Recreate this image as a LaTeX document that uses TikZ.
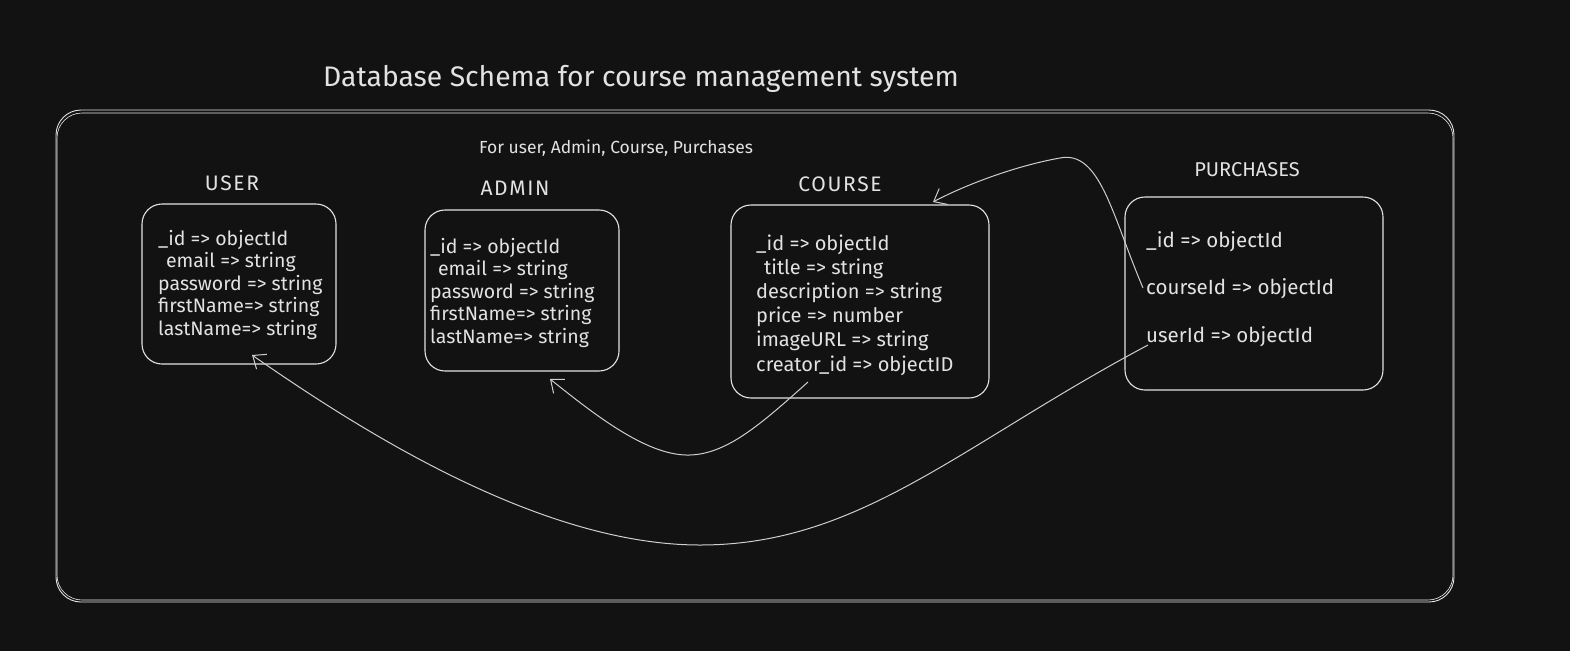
\documentclass[tikz,border=0pt]{standalone}
\usepackage{fontspec}
\setmainfont{Fira Sans}
\usetikzlibrary{arrows.meta}
\definecolor{bg}{HTML}{121212}
\definecolor{ink}{HTML}{E2E2E2}
\definecolor{wire}{HTML}{CFCFCF}
\begin{document}
\begin{tikzpicture}[x=1pt,y=-1pt,
  tbl/.style={draw=ink,line width=1.1pt,rounded corners=20pt,inner sep=0pt},
  lbl/.style={text=ink,font=\fontsize{21}{24}\selectfont\addfontfeatures{LetterSpace=8},inner sep=0pt},
  fields/.style={text=ink,font=\fontsize{19.5}{22.5}\selectfont,align=left,inner sep=0pt,anchor=base west},
  link/.style={draw=wire,line width=1pt,-{Straight Barb[length=11pt,width=18pt,line width=1pt]}}]
\fill[bg] (0,0) rectangle (1570,651);
\useasboundingbox (0,0) rectangle (1570,651);
% frame
\node[draw=ink,line width=0.9pt,rounded corners=25pt,minimum width=1398pt,minimum height=492pt,inner sep=0pt] (frame) at (755,356) {};
\draw[ink!70,line width=0.6pt,rounded corners=25pt] (57,113) rectangle (1453,600);
% titles
\node[text=ink,font=\fontsize{28.3}{32}\selectfont,inner sep=0pt] (title) at (641,79) {Database Schema for course management system};
\node[text=ink,font=\fontsize{17.5}{20}\selectfont,inner sep=0pt] (sub) at (616,148) {For user, Admin, Course, Purchases};
% labels
\node[lbl] (luser) at (232,183) {USER};
\node[lbl] (ladmin) at (515,188) {ADMIN};
\node[lbl] (lcourse) at (840,184) {COURSE};
\node[lbl,font=\fontsize{20}{24}\selectfont] (lpurch) at (1247,170) {PURCHASES};
% boxes
\node[tbl,minimum width=194pt,minimum height=160pt] (user) at (239,284) {};
\node[tbl,minimum width=194pt,minimum height=161pt] (admin) at (522,290.5) {};
\node[tbl,minimum width=258pt,minimum height=193pt] (course) at (860,301.5) {};
\node[tbl,minimum width=258pt,minimum height=193pt] (purch) at (1254,293.5) {};
% fields (anchored at the baseline of the last line)
\node[fields] (uf) at (158,335) {\_id => objectId\\\hspace{0.4em}email => string\\password => string\\firstName=> string\\lastName=> string};
\node[fields] (af) at (430,343) {\_id => objectId\\\hspace{0.4em}email => string\\password => string\\firstName=> string\\lastName=> string};
\node[fields,font=\fontsize{20}{24.2}\selectfont] (cf) at (756,371) {\_id => objectId\\\hspace{0.4em}title => string\\description => string\\price => number\\imageURL => string\\creator\_id => objectID};
\node[fields,font=\fontsize{20.5}{47.5}\selectfont] (pf) at (1146,342) {\_id => objectId\\courseId => objectId\\userId => objectId};
% connector ends
\coordinate (s1) at (1143,288);
\coordinate (e1) at (933,202);
\coordinate (s2) at (808,382);
\coordinate (e2) at (550,379);
\coordinate (s3) at (1148,345);
\coordinate (e3) at (252,355);
% connectors
\draw[link] (s1) .. controls (1112,215) and (1100,150) .. (1060,158) .. controls (1015,166) and (965,185) .. (e1);
\draw[link] (s2) .. controls (760,425) and (725,456) .. (686,455) .. controls (645,454) and (595,415) .. (e2);
\draw[link] (s3) .. controls (960,445) and (860,545) .. (700,545) .. controls (540,545) and (360,430) .. (e3);
\end{tikzpicture}
\end{document}
